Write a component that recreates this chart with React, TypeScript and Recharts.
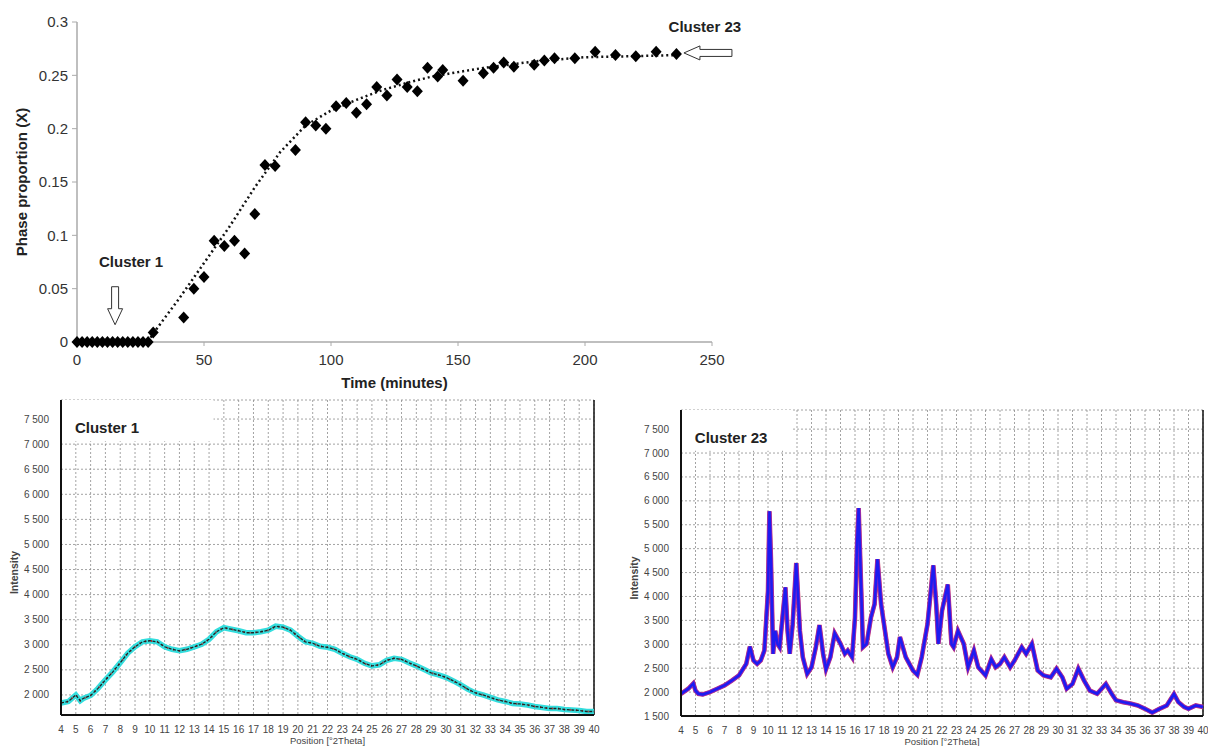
import {
  CartesianGrid,
  Line,
  LineChart,
  ReferenceArea,
  ReferenceDot,
  ReferenceLine,
  Scatter,
  ScatterChart,
  XAxis,
  YAxis,
} from "recharts";

const FONT = '"Liberation Sans", Arial, sans-serif';

// kinetics: phase proportion vs time
const times = [
  0, 2, 4, 6, 8, 10, 12, 14, 16, 18, 20, 22, 24, 26, 28, 30, 42, 46, 50, 54, 58, 62, 66, 70, 74, 78, 86, 90,
  94, 98, 102, 106, 110, 114, 118, 122, 126, 130, 134, 138, 142, 144, 152, 160, 164, 168, 172, 180, 184, 188,
  196, 204, 212, 220, 228, 236,
];
const proportions = [
  0, 0, 0, 0, 0, 0, 0, 0, 0, 0, 0, 0, 0, 0, 0, 0.009, 0.023, 0.05, 0.061, 0.095, 0.09, 0.095, 0.083, 0.12,
  0.166, 0.165, 0.18, 0.206, 0.203, 0.2, 0.221, 0.224, 0.215, 0.223, 0.239, 0.231, 0.246, 0.239, 0.235, 0.257,
  0.249, 0.255, 0.245, 0.252, 0.257, 0.262, 0.258, 0.26, 0.264, 0.266, 0.266, 0.272, 0.269, 0.268, 0.272, 0.27,
];
const trendTimes = [28, 30, 40, 50, 60, 70, 80, 90, 100, 110, 120, 130, 140, 150, 160, 170, 180, 190, 200, 220, 236];
const trendValues = [
  0, 0.008, 0.04, 0.074, 0.108, 0.145, 0.178, 0.203, 0.217, 0.227, 0.236, 0.243, 0.249, 0.253, 0.257, 0.26,
  0.263, 0.265, 0.267, 0.268, 0.269,
];
const timeTicks = [0, 50, 100, 150, 200, 250];
const propTicks = [0, 0.05, 0.1, 0.15, 0.2, 0.25, 0.3];

// XRD patterns
const posTicks = [
  4, 5, 6, 7, 8, 9, 10, 11, 12, 13, 14, 15, 16, 17, 18, 19, 20, 21, 22, 23, 24, 25, 26, 27, 28, 29, 30, 31, 32,
  33, 34, 35, 36, 37, 38, 39, 40,
];
const c1Pos = [
  4, 4.5, 5, 5.3, 5.5, 6, 6.5, 7, 7.5, 8, 8.5, 9, 9.5, 10, 10.5, 11, 11.5, 12, 12.5, 13, 13.5, 14, 14.5, 15,
  15.5, 16, 16.5, 17, 17.5, 18, 18.5, 19, 19.5, 20, 20.5, 21, 21.5, 22, 22.5, 23, 23.5, 24, 24.5, 25, 25.5, 26,
  26.5, 27, 27.5, 28, 28.5, 29, 29.5, 30, 30.5, 31, 31.5, 32, 32.5, 33, 33.5, 34, 34.5, 35, 35.5, 36, 36.5, 37,
  37.5, 38, 38.5, 39, 39.5, 40,
];
const c1Int = [
  1840, 1870, 2000, 1885, 1930, 1990, 2130, 2300, 2460, 2640, 2830, 2960, 3060, 3080, 3060, 2960, 2910, 2880,
  2910, 2960, 3010, 3110, 3260, 3340, 3310, 3280, 3240, 3240, 3260, 3290, 3370, 3350, 3290, 3170, 3060, 3030,
  2970, 2950, 2910, 2830, 2760, 2710, 2630, 2580, 2600, 2690, 2730, 2710, 2640, 2580, 2510, 2440, 2400, 2350,
  2280, 2200, 2110, 2040, 2000, 1950, 1900, 1870, 1830, 1820, 1800, 1770, 1750, 1730, 1730, 1710, 1700, 1690,
  1670, 1670,
];
const c1Ticks = [2000, 2500, 3000, 3500, 4000, 4500, 5000, 5500, 6000, 6500, 7000, 7500];

const c23Pos = [
  4, 4.5, 4.85, 5, 5.2, 5.5, 6, 6.5, 7, 7.5, 8, 8.5, 8.75, 9, 9.25, 9.5, 9.75, 10, 10.1, 10.2, 10.35, 10.5,
  10.65, 10.8, 11, 11.2, 11.35, 11.5, 11.7, 11.95, 12.2, 12.4, 12.7, 13, 13.3, 13.55, 13.8, 14, 14.3, 14.6, 15,
  15.3, 15.5, 15.8, 16, 16.15, 16.25, 16.4, 16.55, 16.8, 17.1, 17.35, 17.55, 17.8, 18, 18.3, 18.6, 18.9, 19.1,
  19.5, 20, 20.3, 20.6, 21, 21.4, 21.6, 21.75, 22, 22.4, 22.65, 22.8, 23.1, 23.5, 23.8, 24.2, 24.5, 25, 25.4,
  25.7, 26, 26.3, 26.7, 27, 27.5, 27.8, 28.2, 28.6, 29, 29.5, 29.9, 30.3, 30.6, 31, 31.4, 31.8, 32.2, 32.7,
  33.3, 33.7, 34, 34.5, 35, 35.5, 36, 36.5, 37, 37.5, 38, 38.3, 38.7, 39, 39.5, 40,
];
const c23Int = [
  1965, 2070, 2180, 2030, 1965, 1950, 2000, 2070, 2140, 2240, 2350, 2590, 2950, 2660, 2590, 2660, 2870, 4120,
  5780, 4810, 2800, 3280, 3010, 2940, 3560, 4190, 3280, 2800, 3420, 4700, 3280, 2730, 2380, 2520, 2940, 3400,
  2800, 2480, 2730, 3230, 3010, 2800, 2870, 2730, 3560, 5160, 5850, 4400, 2940, 3010, 3560, 3840, 4780, 3840,
  3420, 2800, 2520, 2730, 3150, 2730, 2450, 2360, 2730, 3420, 4650, 3840, 3010, 3700, 4250, 3010, 2940, 3280,
  3010, 2520, 2870, 2520, 2350, 2690, 2520, 2590, 2730, 2520, 2660, 2940, 2800, 3010, 2450, 2350, 2310, 2490,
  2310, 2070, 2170, 2490, 2240, 2030, 1965, 2170, 1965, 1830, 1790, 1760, 1720, 1650, 1570, 1650, 1720, 1960,
  1790, 1690, 1650, 1720, 1690,
];
const c23Ticks = [1500, 2000, 2500, 3000, 3500, 4000, 4500, 5000, 5500, 6000, 6500, 7000, 7500];

const fmtIntensity = (v: number) =>
  v >= 1000 ? `${Math.floor(v / 1000)} ${String(v % 1000).padStart(3, "0")}` : String(v);

const Diamond = (p: any) => (
  <polygon
    points={`${p.cx},${p.cy - 6} ${p.cx + 5.5},${p.cy} ${p.cx},${p.cy + 6} ${p.cx - 5.5},${p.cy}`}
    fill="#000"
  />
);

const DownArrow = (p: any) => {
  const { cx, cy } = p;
  const pts = [
    [cx - 3.5, cy - 19],
    [cx + 3.5, cy - 19],
    [cx + 3.5, cy + 3],
    [cx + 7.5, cy + 3],
    [cx, cy + 19],
    [cx - 7.5, cy + 3],
    [cx - 3.5, cy + 3],
  ];
  return <polygon points={pts.map((q) => q.join(",")).join(" ")} fill="#fff" stroke="#333" strokeWidth={1} />;
};

const LeftArrow = (p: any) => {
  const { cx, cy } = p;
  const pts = [
    [cx - 24, cy],
    [cx - 8, cy - 7],
    [cx - 8, cy - 3.5],
    [cx + 24, cy - 3.5],
    [cx + 24, cy + 3.5],
    [cx - 8, cy + 3.5],
    [cx - 8, cy + 7],
  ];
  return <polygon points={pts.map((q) => q.join(",")).join(" ")} fill="#fff" stroke="#333" strokeWidth={1} />;
};

const TextMark = (text: string) => (p: any) => (
  <text x={p.cx} y={p.cy + 5} textAnchor="middle" fontFamily={FONT} fontSize={15} fontWeight="bold" fill="#222">
    {text}
  </text>
);

function KineticsChart() {
  const points = times.map((t, i) => ({ t, v: proportions[i] }));
  const trend = trendTimes.map((t, i) => ({ t, v: trendValues[i] }));
  const tick = { fontSize: 15, fill: "#333", fontFamily: FONT };
  return (
    <ScatterChart width={760} height={400} margin={{ top: 22, right: 48, bottom: 28, left: 17 }}>
      <XAxis
        type="number"
        dataKey="t"
        domain={[0, 250]}
        ticks={timeTicks}
        tick={tick}
        tickSize={4}
        tickMargin={8}
        height={30}
        axisLine={{ stroke: "#aaa", strokeWidth: 1.5 }}
        tickLine={{ stroke: "#aaa" }}
        label={{
          content: (p: any) => (
            <text
              x={p.viewBox.x + p.viewBox.width / 2}
              y={p.viewBox.y + 46}
              textAnchor="middle"
              fontFamily={FONT}
              fontSize={15}
              fontWeight="bold"
              fill="#222"
            >
              Time (minutes)
            </text>
          ),
        }}
      />
      <YAxis
        type="number"
        dataKey="v"
        domain={[0, 0.3]}
        ticks={propTicks}
        tick={tick}
        tickSize={5}
        tickMargin={4}
        width={60}
        axisLine={{ stroke: "#aaa", strokeWidth: 1.5 }}
        tickLine={{ stroke: "#aaa" }}
        label={{
          content: (p: any) => {
            const cy = p.viewBox.y + p.viewBox.height / 2;
            return (
              <text
                x={21}
                y={cy}
                transform={`rotate(-90 21 ${cy})`}
                textAnchor="middle"
                dominantBaseline="central"
                fontFamily={FONT}
                fontSize={15}
                fontWeight="bold"
                fill="#222"
              >
                Phase proportion (X)
              </text>
            );
          },
        }}
      />
      <Scatter
        data={trend}
        line={{ stroke: "#111", strokeWidth: 2.5, strokeDasharray: "2 3" }}
        lineType="joint"
        shape={() => <g />}
        isAnimationActive={false}
      />
      <Scatter data={points} shape={Diamond} isAnimationActive={false} />
      <ReferenceDot x={21.3} y={0.075} ifOverflow="visible" shape={TextMark("Cluster 1")} />
      <ReferenceDot x={15} y={0.034} ifOverflow="visible" shape={DownArrow} />
      <ReferenceDot x={247.2} y={0.295} ifOverflow="visible" shape={TextMark("Cluster 23")} />
      <ReferenceDot x={248.4} y={0.271} ifOverflow="visible" shape={LeftArrow} />
    </ScatterChart>
  );
}

interface Layer {
  color: string;
  width: number;
  dash?: string;
}

interface XrdProps {
  title: string;
  pos: number[];
  intensity: number[];
  yDomain: [number, number];
  yTicks: number[];
  width: number;
  height: number;
  margin: { top: number; right: number; bottom: number; left: number };
  box: [number, number, number];
  layers: Layer[];
}

function XrdPanel({ title, pos, intensity, yDomain, yTicks, width, height, margin, box, layers }: XrdProps) {
  const data = pos.map((p, i) => ({ pos: p, v: intensity[i] }));
  const tick = { fontSize: 10, fill: "#444", fontFamily: FONT };
  return (
    <LineChart width={width} height={height} data={data} margin={margin}>
      <CartesianGrid stroke="#8c8c8c" strokeDasharray="2 2" strokeWidth={0.8} />
      <XAxis
        type="number"
        dataKey="pos"
        domain={[4, 40]}
        ticks={posTicks}
        interval={0}
        tick={tick}
        tickLine={false}
        tickMargin={5}
        height={18}
        axisLine={{ stroke: "#111", strokeWidth: 2 }}
        label={{
          content: (p: any) => (
            <text
              x={p.viewBox.x + p.viewBox.width / 2}
              y={p.viewBox.y + 29}
              textAnchor="middle"
              fontFamily={FONT}
              fontSize={9.5}
              fill="#444"
            >
              Position [°2Theta]
            </text>
          ),
        }}
      />
      <YAxis
        type="number"
        domain={yDomain}
        ticks={yTicks}
        tickFormatter={fmtIntensity}
        interval={0}
        allowDataOverflow
        tick={tick}
        tickLine={false}
        tickMargin={6}
        width={50}
        axisLine={{ stroke: "#111", strokeWidth: 2 }}
        label={{
          content: (p: any) => {
            const x = p.viewBox.x + 3;
            const cy = p.viewBox.y + p.viewBox.height / 2 + 15;
            return (
              <text
                x={x}
                y={cy}
                transform={`rotate(-90 ${x} ${cy})`}
                textAnchor="middle"
                dominantBaseline="central"
                fontFamily={FONT}
                fontSize={10.5}
                fontWeight="bold"
                fill="#444"
              >
                Intensity
              </text>
            );
          },
        }}
      />
      <ReferenceLine x={40} stroke="#111" strokeWidth={1.5} />
      <ReferenceArea
        x1={4.06}
        x2={box[0]}
        y1={box[1]}
        y2={box[2]}
        fill="#fff"
        fillOpacity={1}
        stroke="none"
        ifOverflow="visible"
        label={{
          content: (p: any) => (
            <text
              x={p.viewBox.x + 13}
              y={p.viewBox.y + 33}
              fontFamily={FONT}
              fontSize={15}
              fontWeight="bold"
              fill="#222"
            >
              {title}
            </text>
          ),
        }}
      />
      {layers.map((l, i) => (
        <Line
          key={i}
          type="linear"
          dataKey="v"
          stroke={l.color}
          strokeWidth={l.width}
          strokeDasharray={l.dash}
          dot={false}
          activeDot={false}
          isAnimationActive={false}
        />
      ))}
    </LineChart>
  );
}

export default function App() {
  return (
    <div style={{ position: "absolute", left: 0, top: 0, width: 1208, height: 746, background: "#fff" }}>
      <div style={{ position: "absolute", left: 0, top: 0 }}>
        <KineticsChart />
      </div>
      <div style={{ position: "absolute", left: 0, top: 390 }}>
        <XrdPanel
          title="Cluster 1"
          pos={c1Pos}
          intensity={c1Int}
          yDomain={[1600, 7880]}
          yTicks={c1Ticks}
          width={610}
          height={356}
          margin={{ top: 10, right: 16, bottom: 13, left: 11 }}
          box={[14.3, 7060, 7880]}
          layers={[
            { color: "#33dede", width: 5.5 },
            { color: "#c02020", width: 2, dash: "1 5" },
            { color: "#222", width: 1.3, dash: "3 1.5" },
          ]}
        />
      </div>
      <div style={{ position: "absolute", left: 620, top: 390 }}>
        <XrdPanel
          title="Cluster 23"
          pos={c23Pos}
          intensity={c23Int}
          yDomain={[1500, 7900]}
          yTicks={c23Ticks}
          width={588}
          height={356}
          margin={{ top: 20, right: 5, bottom: 12, left: 11 }}
          box={[11.7, 7050, 7900]}
          layers={[
            { color: "#d0406a", width: 4.6 },
            { color: "#7a22c8", width: 3.8 },
            { color: "#1c1cf0", width: 2.4 },
          ]}
        />
      </div>
    </div>
  );
}
